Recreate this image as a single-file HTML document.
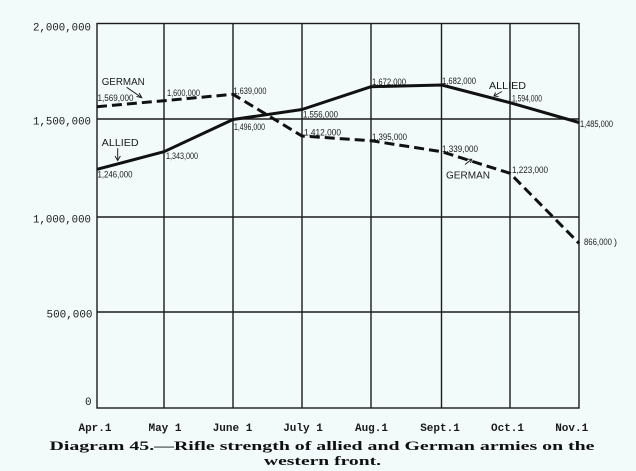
<!DOCTYPE html>
<html>
<head>
<meta charset="utf-8">
<style>
  html,body{margin:0;padding:0;background:#f3fbfa;}
  svg{display:block;}
  .yl{font-family:"Liberation Mono",monospace;font-size:11px;fill:#1a1a1a;}
  .xl{font-family:"Liberation Mono",monospace;font-size:11px;font-weight:bold;fill:#1a1a1a;}
  .sm{font-family:"Liberation Sans",sans-serif;font-size:9px;fill:#1a1a1a;}
  .nm{font-family:"Liberation Sans",sans-serif;font-size:10px;fill:#1a1a1a;}
  .cap{font-family:"Liberation Serif",serif;font-size:13px;font-weight:bold;fill:#111;}
</style>
</head>
<body>
<svg width="636" height="471" viewBox="0 0 636 471" xmlns="http://www.w3.org/2000/svg">
  <rect x="0" y="0" width="636" height="471" fill="#f3fbfa"/>
  <!-- grid -->
  <g stroke="#1c1c1c" stroke-width="1.4" fill="none">
    <rect x="97" y="23.5" width="482" height="384.5"/>
    <line x1="164" y1="23.5" x2="164" y2="408"/>
    <line x1="233" y1="23.5" x2="233" y2="408"/>
    <line x1="302" y1="23.5" x2="302" y2="408"/>
    <line x1="371" y1="23.5" x2="371" y2="408"/>
    <line x1="441.5" y1="23.5" x2="441.5" y2="408"/>
    <line x1="510" y1="23.5" x2="510" y2="408"/>
    <line x1="97" y1="119" x2="579" y2="119"/>
    <line x1="97" y1="217" x2="579" y2="217"/>
    <line x1="97" y1="312" x2="579" y2="312"/>
  </g>
  <!-- Allied -->
  <polyline fill="none" stroke="#111" stroke-width="3" stroke-linejoin="round"
    points="97,169.3 164,151.7 233,119.5 302,109.5 371,86.7 441.7,85 510,102.7 579,122.5"/>
  <!-- German -->
  <polyline fill="none" stroke="#111" stroke-width="3" stroke-dasharray="10 5"
    points="97,106.7 164,100.7 233,94.3 302,136 371,140.7 441.7,151.7 510,173.3 579,243.3"/>

  <!-- y labels -->
  <text class="yl" x="33" y="30.5" textLength="58" lengthAdjust="spacingAndGlyphs">2,000,000</text>
  <text class="yl" x="33" y="124.5" textLength="58" lengthAdjust="spacingAndGlyphs">1,500,000</text>
  <text class="yl" x="33" y="222.5" textLength="58" lengthAdjust="spacingAndGlyphs">1,000,000</text>
  <text class="yl" x="46.5" y="317.5" textLength="46" lengthAdjust="spacingAndGlyphs">500,000</text>
  <text class="yl" x="85" y="405">0</text>

  <!-- x labels -->
  <text class="xl" x="95" y="431" text-anchor="middle">Apr.1</text>
  <text class="xl" x="165" y="431" text-anchor="middle">May 1</text>
  <text class="xl" x="232.5" y="431" text-anchor="middle">June 1</text>
  <text class="xl" x="303" y="431" text-anchor="middle">July 1</text>
  <text class="xl" x="371.5" y="431" text-anchor="middle">Aug.1</text>
  <text class="xl" x="440" y="431" text-anchor="middle">Sept.1</text>
  <text class="xl" x="507.5" y="431" text-anchor="middle">Oct.1</text>
  <text class="xl" x="571.7" y="431" text-anchor="middle">Nov.1</text>

  <!-- value labels German -->
  <text class="sm" x="97.5" y="101" textLength="36" lengthAdjust="spacingAndGlyphs">1,569,000</text>
  <text class="sm" x="167" y="96" textLength="33" lengthAdjust="spacingAndGlyphs">1,600,000</text>
  <text class="sm" x="233.5" y="94" textLength="33" lengthAdjust="spacingAndGlyphs">1,639,000</text>
  <text class="sm" x="304" y="135.5" textLength="37" lengthAdjust="spacingAndGlyphs">1,412,000</text>
  <text class="sm" x="372" y="140" textLength="35" lengthAdjust="spacingAndGlyphs">1,395,000</text>
  <text class="sm" x="442" y="152" textLength="36" lengthAdjust="spacingAndGlyphs">1,339,000</text>
  <text class="sm" x="512" y="173" textLength="36" lengthAdjust="spacingAndGlyphs">1,223,000</text>
  <text class="sm" x="584" y="245" textLength="28" lengthAdjust="spacingAndGlyphs">866,000</text>
  <text class="sm" x="614" y="245">)</text>

  <!-- value labels Allied -->
  <text class="sm" x="97.5" y="177.5" textLength="35" lengthAdjust="spacingAndGlyphs">1,246,000</text>
  <text class="sm" x="166" y="159" textLength="32" lengthAdjust="spacingAndGlyphs">1,343,000</text>
  <text class="sm" x="234" y="130" textLength="31" lengthAdjust="spacingAndGlyphs">1,496,000</text>
  <text class="sm" x="303" y="117.5" textLength="35" lengthAdjust="spacingAndGlyphs">1,556,000</text>
  <text class="sm" x="372" y="85" textLength="34" lengthAdjust="spacingAndGlyphs">1,672,000</text>
  <text class="sm" x="442" y="84" textLength="34" lengthAdjust="spacingAndGlyphs">1,682,000</text>
  <text class="sm" x="512" y="101.5" textLength="30" lengthAdjust="spacingAndGlyphs">1,594,000</text>
  <text class="sm" x="580" y="127" textLength="33" lengthAdjust="spacingAndGlyphs">1,485,000</text>

  <!-- series names -->
  <text class="nm" x="101.7" y="85" textLength="43" lengthAdjust="spacingAndGlyphs">GERMAN</text>
  <text class="nm" x="101.7" y="146" textLength="37" lengthAdjust="spacingAndGlyphs">ALLIED</text>
  <text class="nm" x="489" y="89" textLength="37" lengthAdjust="spacingAndGlyphs">ALLIED</text>
  <text class="nm" x="446" y="178.5" textLength="44" lengthAdjust="spacingAndGlyphs">GERMAN</text>

  <!-- arrows -->
  <g stroke="#222" stroke-width="1" fill="none">
    <line x1="126.7" y1="87.3" x2="141.7" y2="97.7"/>
    <polyline points="136.5,96.5 141.7,97.7 139.2,93"/>
    <line x1="117.7" y1="148.3" x2="117.7" y2="160"/>
    <polyline points="115,156 117.7,160.5 120.4,156"/>
    <line x1="502" y1="91.5" x2="494" y2="96"/>
    <polyline points="495.5,92.5 494,96 498.5,96.5"/>
    <line x1="465" y1="164.5" x2="471.7" y2="159.3"/>
    <polyline points="467.5,159.3 471.7,159.3 470.5,163"/>
  </g>

  <!-- caption -->
  <text class="cap" x="49.5" y="450" textLength="545" lengthAdjust="spacingAndGlyphs">Diagram 45.—Rifle strength of allied and German armies on the</text>
  <text class="cap" x="264" y="465" textLength="117" lengthAdjust="spacingAndGlyphs">western front.</text>
</svg>
</body>
</html>
